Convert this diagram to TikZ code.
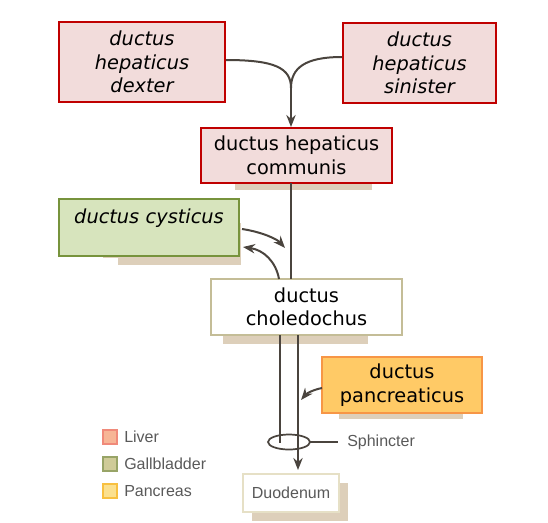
\documentclass[tikz,border=0pt]{standalone}
\usepackage{fontspec}
\setmainfont{DejaVu Sans}
\newfontfamily\legfont{Liberation Sans}
\usetikzlibrary{arrows.meta}
\definecolor{pinkfill}{HTML}{F2DCDB}
\definecolor{pinkline}{HTML}{C00000}
\definecolor{greenfill}{HTML}{D7E4BD}
\definecolor{greenline}{HTML}{77933C}
\definecolor{orfill}{HTML}{FFCA66}
\definecolor{orline}{HTML}{F79646}
\definecolor{chline}{HTML}{C4BD97}
\definecolor{duline}{HTML}{E6E0C6}
\definecolor{shadowc}{HTML}{DDCFBA}
\definecolor{ductc}{HTML}{4A443E}
\definecolor{grayt}{HTML}{595959}
\definecolor{livf}{HTML}{F7B596}
\definecolor{livl}{HTML}{F08A7A}
\definecolor{galf}{HTML}{CFCB98}
\definecolor{gall}{HTML}{98A467}
\definecolor{panf}{HTML}{FBE08E}
\definecolor{panl}{HTML}{F8C040}
\tikzset{
  boxbase/.style={inner sep=0pt, align=center, font=\fontsize{14.5}{17.6}\selectfont},
  liverbox/.style={boxbase, draw=pinkline, fill=pinkfill, line width=1.5pt},
  gallbox/.style={boxbase, draw=greenline, fill=greenfill, line width=1.5pt},
  panbox/.style={boxbase, draw=orline, fill=orfill, line width=1.5pt},
  plainbox/.style={boxbase, draw=chline, fill=white, line width=0.8pt},
  duobox/.style={inner sep=0pt, draw=duline, fill=white, line width=1.3pt, font=\legfont\fontsize{12}{14}\selectfont, text=grayt},
  shade/.style={fill=shadowc, draw=none},
  duct/.style={draw=ductc, line width=1.5pt},
  ductarrow/.style={duct, -{Stealth[length=9pt,width=7pt]}},
  legsq/.style={minimum size=10.5pt, inner sep=0pt, line width=1pt},
  legtext/.style={anchor=west, inner sep=0pt, font=\legfont\fontsize{12}{14}\selectfont, text=grayt},
}
\begin{document}
\begin{tikzpicture}[x=0.75pt,y=-0.75pt]
\useasboundingbox (0,0) rectangle (548,522);
% shadows
\fill[shade] (235,180) rectangle (372,190);
\fill[shade] (103,240) rectangle (234,258);
\fill[shade] (118,223) rectangle (241,265);
\fill[shade] (223,330) rectangle (368,344);
\fill[shade] (339,410) rectangle (463,419);
\fill[shade] (252,483) rectangle (348,521);
% boxes
\node[liverbox, minimum width={166*0.75pt}, minimum height={80*0.75pt}] (dexter) at (142,62) {\itshape ductus\\\itshape hepaticus\\\itshape dexter};
\node[liverbox, minimum width={153*0.75pt}, minimum height={80*0.75pt}] (sinister) at (419.5,63) {\itshape ductus\\\itshape hepaticus\\\itshape sinister};
\node[liverbox, minimum width={191*0.75pt}, minimum height={55*0.75pt}] (communis) at (296.5,155.5) {ductus hepaticus\\communis};
\node[gallbox, text width={180*0.75pt}, text height={24*0.75pt}, text depth={33*0.75pt}] (cysticus) at (149,227.5) {\itshape ductus cysticus};
\node[plainbox, minimum width={191*0.75pt}, minimum height={56*0.75pt}] (choledochus) at (306.5,307) {ductus\\choledochus};
\node[panbox, minimum width={160*0.75pt}, minimum height={56*0.75pt}] (pancreaticus) at (402,385) {ductus\\pancreaticus};
\node[duobox, minimum width={96*0.75pt}, minimum height={38*0.75pt}] (duodenum) at (291,493) {Duodenum};
% coordinates
\coordinate (join) at (291,88);
\coordinate (comtop) at (291,127);
\coordinate (comdown) at (291,183);
\coordinate (choltop) at (291,279);
\coordinate (cysA) at (242,229);
\coordinate (cysAend) at (285,248);
\coordinate (cysB) at (279,279);
\coordinate (cysBend) at (243,247);
\coordinate (lefttop) at (280,335);
\coordinate (leftbot) at (280,443);
\coordinate (righttop) at (298,335);
\coordinate (rightbot) at (298,470);
\coordinate (panA) at (322,388);
\coordinate (panAend) at (301,400);
% hepatic ducts
\draw[duct] (dexter.east |- 0,60) .. controls (275,60) and (291,68) .. (join);
\draw[duct] (sinister.west |- 0,57) .. controls (305,57) and (291,68) .. (join);
\draw[ductarrow] (join) -- (comtop);
\draw[duct] (comdown) -- (choltop);
% cystic duct arrows
\draw[ductarrow] (cysA) .. controls (262,232) and (277,239) .. (cysAend);
\draw[ductarrow] (cysB) .. controls (276,262) and (264,250) .. (cysBend);
% common bile duct and pancreatic duct
\draw[duct] (lefttop) -- (leftbot);
\draw[ductarrow] (righttop) -- (rightbot);
\draw[ductarrow] (panA) .. controls (312,390) and (306,394) .. (panAend);
% sphincter
\draw[ductc, line width=1.3pt] (289,442) ellipse [x radius=21, y radius=7.5];
\coordinate (sphR) at (310,442);
\node[legtext] (sphincter) at (347,442) {Sphincter};
\draw[ductc, line width=1pt] (sphR) -- (338,442);
% legend
\node[legsq, draw=livl, fill=livf] (legliv) at (110,437) {};
\node[legtext] (legLiver) at (124,437) {Liver};
\node[legsq, draw=gall, fill=galf] (leggal) at (110,464) {};
\node[legtext] (legGall) at (124,464) {Gallbladder};
\node[legsq, draw=panl, fill=panf] (legpan) at (110,491) {};
\node[legtext] (legPan) at (124,491) {Pancreas};
\end{tikzpicture}
\end{document}
